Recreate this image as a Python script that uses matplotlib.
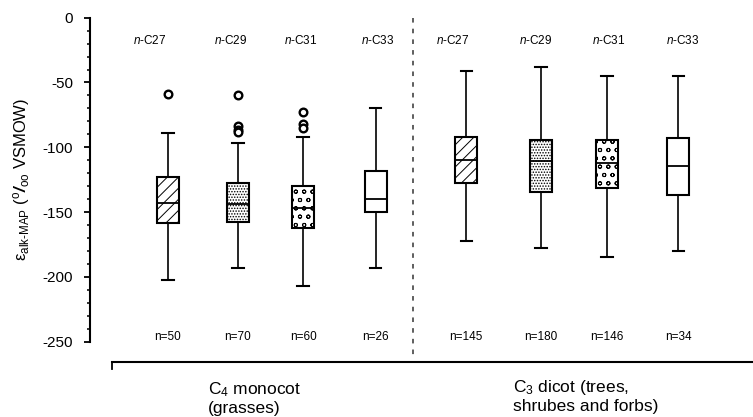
import matplotlib
matplotlib.use("Agg")
import matplotlib.pyplot as plt

plt.rcParams['font.family'] = ['Liberation Sans', 'DejaVu Sans']
plt.rcParams['mathtext.fontset'] = 'custom'
plt.rcParams['mathtext.rm'] = 'Liberation Sans'
plt.rcParams['mathtext.it'] = 'Liberation Sans:italic'
plt.rcParams['mathtext.bf'] = 'Liberation Sans:bold:italic'
plt.rcParams['axes.unicode_minus'] = False
plt.rcParams['hatch.linewidth'] = 0.7

# chain lengths and sample sizes, C4 grasses then C3 dicots
chains = ['27', '29', '31', '33', '27', '29', '31', '33']
counts = [50, 70, 60, 26, 145, 180, 146, 34]

# box statistics (permil)
whis_lo = [-202.5, -193, -207, -193, -172, -177.5, -184.5, -180]
q1 = [-158.3, -157.3, -162.5, -150, -127.6, -134.7, -131.6, -136.8]
median = [-142.8, -144, -146.8, -139.8, -110.1, -110.9, -112.4, -114.2]
q3 = [-123, -127.5, -130, -118.6, -92.4, -94.7, -94.2, -92.7]
whis_hi = [-88.7, -97, -92, -70, -41, -38.1, -44.7, -44.7]
outliers = [[-59], [-59.5, -83.5, -86.5, -88.5], [-73, -82, -85], [], [], [], [], []]

groups = ['C$_4$ monocot\n(grasses)', 'C$_3$ dicot (trees,\nshrubes and forbs)']

# layout
positions = [1, 2, 2.93, 3.97, 5.26, 6.33, 7.27, 8.29]
hatches = ['///', '......', 'oo', '', '///', '......', 'oo', '']

fig = plt.figure(figsize=(7.53, 4.17), dpi=100)
ax = fig.add_axes([0.1195, 0.1806, 0.8805, 0.7770])

stats = []
for i in range(len(chains)):
    stats.append(dict(whislo=whis_lo[i], q1=q1[i], med=median[i], q3=q3[i],
                      whishi=whis_hi[i], fliers=outliers[i]))

bp = ax.bxp(stats, positions=positions, widths=0.31, capwidths=0.16,
            patch_artist=True, manage_ticks=False,
            boxprops=dict(facecolor='white', edgecolor='black', linewidth=1.5),
            medianprops=dict(color='black', linewidth=1.3),
            whiskerprops=dict(color='black', linewidth=1.2),
            capprops=dict(color='black', linewidth=1.5),
            flierprops=dict(marker='o', markersize=5.5, markerfacecolor='white',
                            markeredgecolor='black', markeredgewidth=1.7))
for box, h in zip(bp['boxes'], hatches):
    box.set_hatch(h)

ax.set_xlim(-0.114, 9.357)
ax.set_ylim(-250, 0)
ax.set_yticks(range(-250, 1, 50))
ax.set_yticks(range(-250, 1, 10), minor=True)
ax.tick_params(axis='y', which='major', direction='out', length=4, width=1.3,
               labelsize=11, pad=8)
ax.tick_params(axis='y', which='minor', direction='out', length=2.5, width=1.1)
ax.set_xticks([])
for s in ['top', 'right', 'bottom']:
    ax.spines[s].set_visible(False)
ax.spines['left'].set_linewidth(1.5)

ax.set_ylabel(r'ε$_{\mathregular{alk}\text{-}\mathregular{MAP}}$ '
              r'($^{\mathregular{o}}\mathbf{/}_{\mathregular{oo}}$ VSMOW)',
              fontsize=12, labelpad=8)

# separate x axis line below the plot
ax.plot([0.2, 9.357], [-265.5, -265.5], color='black', lw=1.5, clip_on=False)
ax.plot([0.2, 0.2], [-265.5, -271], color='black', lw=1.3, clip_on=False)

# dashed divider between the two plant groups
ax.plot([4.5, 4.5], [0, -262], color='#333333', lw=1.1, ls=(0, (3, 4)),
        clip_on=False)

top_x = [0.74, 1.9, 2.9, 4.0, 5.07, 6.26, 7.3, 8.36]
for x, c in zip(top_x, chains):
    ax.text(x, -17.3, '$n$-C' + c, ha='center', va='center', fontsize=8.5)
for x, n in zip(positions, counts):
    ax.text(x, -246, 'n=%d' % n, ha='center', va='center', fontsize=8.5)

ax.text(1.57, -280, groups[0], ha='left', va='top', fontsize=12.5,
        linespacing=1.15, clip_on=False)
ax.text(5.93, -278, groups[1], ha='left', va='top', fontsize=12.5,
        linespacing=1.15, clip_on=False)

fig.savefig('out.png', dpi=100)
